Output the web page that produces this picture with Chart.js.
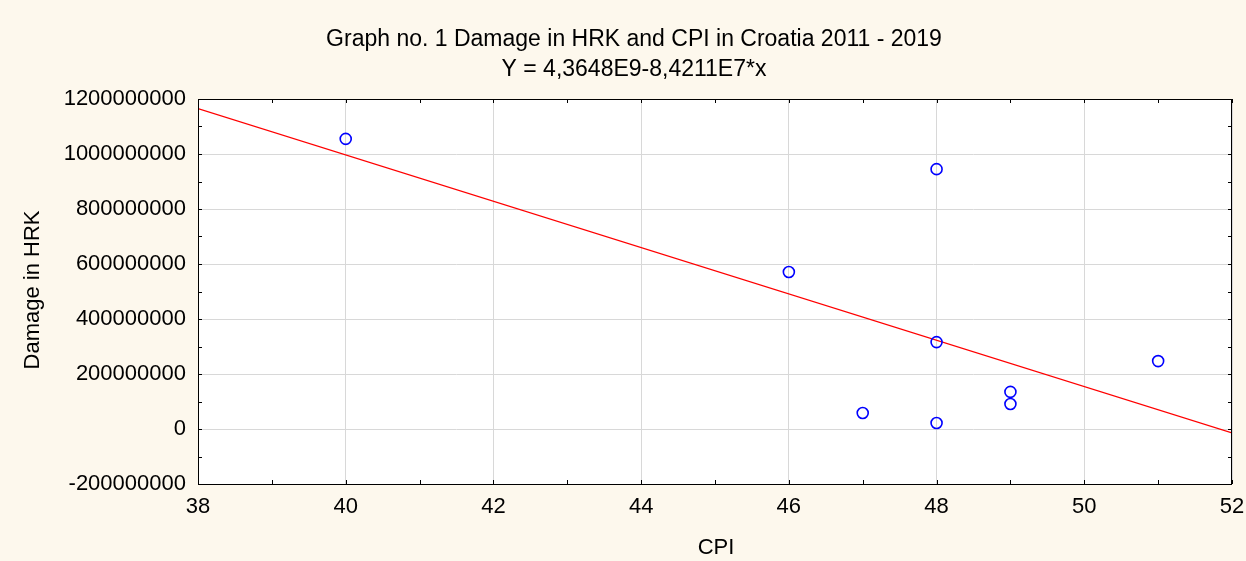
<!DOCTYPE html>
<html>
<head>
<meta charset="utf-8">
<script src="https://cdn.jsdelivr.net/npm/chart.js@4/dist/chart.umd.min.js"></script>
<style>
  html, body { margin: 0; padding: 0; background: #fdf8ed; }
  #wrap { width: 1246px; height: 561px; }
</style>
</head>
<body>
<div id="wrap"><canvas id="chartcanvas" width="1246" height="561"></canvas></div>
<script>
// data
var cpi = [40, 46, 47, 48, 48, 48, 49, 49, 51];
var damage = [1055000000, 571000000, 58000000, 945000000, 316000000, 22000000, 135000000, 91000000, 247000000];
// fitted line Y = 4,3648E9-8,4211E7*x, its two ends
var fitX = [38, 52];
var fitY = [1164800000, -14200000];

var titleLines = ["Graph no. 1 Damage in HRK and CPI in Croatia 2011 - 2019", "Y = 4,3648E9-8,4211E7*x"];
var xTitle = "CPI";
var yTitle = "Damage in HRK";

var FONT = "'Liberation Sans', Arial, sans-serif";

var points = [];
for (var i = 0; i < cpi.length; i++) {
	points.push({ x: cpi[i], y: damage[i] });
}
var fitLine = [];
for (var i = 0; i < fitX.length; i++) {
	fitLine.push({ x: fitX[i], y: fitY[i] });
}

//background, plot frame, inner ticks and all the titles
var decor = {
	id: "decor",
	beforeDraw: function(chart) {
		var c = chart.ctx, a = chart.chartArea;
		c.save();
		c.fillStyle = "#fdf8ed";
		c.fillRect(0, 0, chart.width, chart.height);
		c.fillStyle = "#ffffff";
		c.fillRect(a.left, a.top, a.right - a.left, a.bottom - a.top);
		c.restore();
	},
	afterDraw: function(chart) {
		var c = chart.ctx, a = chart.chartArea;
		var xs = chart.scales.x, ys = chart.scales.y;
		c.save();
		c.strokeStyle = "#000";
		c.lineWidth = 1;
		c.strokeRect(a.left + 0.5, a.top + 0.5, a.right - a.left - 1, a.bottom - a.top);
		c.beginPath();
		for (var v = 38; v <= 52; v++) {
			var px = Math.round(xs.getPixelForValue(v)) + 0.5;
			c.moveTo(px, a.bottom); c.lineTo(px, a.bottom - 4);
			c.moveTo(px, a.top); c.lineTo(px, a.top + 4);
		}
		for (var w = -200000000; w <= 1200000000; w += 100000000) {
			var py = Math.round(ys.getPixelForValue(w)) + 0.5;
			c.moveTo(a.left, py); c.lineTo(a.left + 4, py);
			c.moveTo(a.right, py); c.lineTo(a.right - 4, py);
		}
		c.stroke();

		c.fillStyle = "#000";
		c.font = "23px " + FONT;
		c.textAlign = "center";
		c.textBaseline = "middle";
		c.fillText(titleLines[0], 634, 40);
		c.fillText(titleLines[1], 634, 70);
		c.font = "22px " + FONT;
		c.fillText(xTitle, 716, 548);
		c.translate(33, 290);
		c.rotate(-Math.PI / 2);
		c.fillText(yTitle, 0, 0);
		c.restore();
	}
};

var data = {
	datasets: [
		{
			type: "scatter",
			label: "points",
			data: points,
			pointStyle: "circle",
			pointRadius: 5.5,
			pointBorderWidth: 1.6,
			borderColor: "#0000ff",
			backgroundColor: "rgba(0,0,0,0)"
		},
		{
			type: "line",
			label: "fit",
			data: fitLine,
			borderColor: "#ff0000",
			borderWidth: 1.3,
			pointRadius: 0,
			fill: false,
			tension: 0
		}
	]
};

var options = {
	responsive: false,
	animation: false,
	events: [],
	layout: { padding: { top: 99, right: 14, left: 0, bottom: 0 } },
	plugins: {
		legend: { display: false },
		title: { display: false },
		tooltip: { enabled: false }
	},
	scales: {
		x: {
			type: "linear",
			min: 38,
			max: 52,
			ticks: { stepSize: 2, padding: 10, color: "#000", font: { family: FONT, size: 22 } },
			grid: { color: "#d8d8d8", drawTicks: false },
			border: { display: false },
			afterFit: function(scale) {
				scale.height = 77;
				scale.paddingLeft = 0;
				scale.paddingRight = 0;
			}
		},
		y: {
			type: "linear",
			min: -200000000,
			max: 1200000000,
			ticks: {
				stepSize: 200000000,
				padding: 12,
				color: "#000",
				font: { family: FONT, size: 22 },
				callback: function(v) { return String(Math.round(v)); }
			},
			grid: { color: "#d8d8d8", drawTicks: false },
			border: { display: false },
			afterFit: function(scale) {
				scale.width = 198;
				scale.paddingTop = 0;
				scale.paddingBottom = 0;
			}
		}
	}
};

var ctx = document.getElementById("chartcanvas");
var scatterchart = new Chart(ctx, {
	type: "scatter",
	data: data,
	options: options,
	plugins: [decor]
});
</script>
</body>
</html>
